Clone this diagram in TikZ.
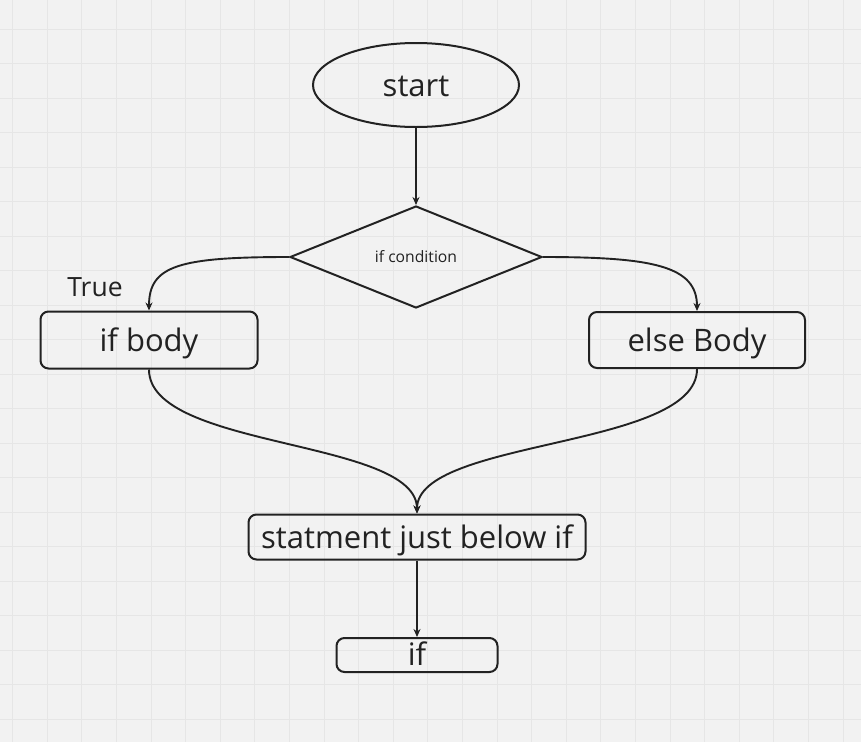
\documentclass[tikz,border=0pt]{standalone}
\usepackage{fontspec}
\setmainfont{Open Sans}
\usetikzlibrary{shapes.geometric,arrows.meta}
\definecolor{bg}{HTML}{F2F2F2}
\definecolor{gridc}{HTML}{E6E6E6}
\definecolor{ink}{HTML}{222222}
\begin{document}
\begin{tikzpicture}[x=1pt,y=-1pt,
  box/.style={draw=ink, line width=2pt, rounded corners=8pt, text=ink, inner sep=0pt},
  conn/.style={draw=ink, line width=1.9pt, -{Stealth[length=8pt,width=7pt]}},
  big/.style={font=\fontsize{31}{37}\selectfont, text height=25pt, text depth=2pt},
]
\fill[bg] (0,0) rectangle (861,742);
\useasboundingbox (0,0) rectangle (861,742);
\foreach \i in {0,...,24} \draw[gridc, line width=1pt] ({12.7+34.6*\i},0) -- ({12.7+34.6*\i},742);
\foreach \j in {0,...,21} \draw[gridc, line width=1pt] (0,{29.3+34.5*\j}) -- (861,{29.3+34.5*\j});

\node[ellipse, draw=ink, line width=2pt, minimum width=206pt, minimum height=84pt, inner sep=0pt, text=ink, big] (start) at (416,85) {start};
\node[diamond, draw=ink, line width=2pt, minimum width=252pt, minimum height=102pt, inner sep=0pt, text=ink, font=\fontsize{15.7}{19}\selectfont] (cond) at (416,257) {if condition};
\node[box, big, minimum width=217pt, minimum height=57pt] (ifb) at (149,340) {if body};
\node[box, big, minimum width=216pt, minimum height=56pt] (elb) at (697,340) {else Body};
\node[box, big, minimum width=337pt, minimum height=45pt] (stmt) at (417,537) {statment just below if};
\node[box, big, minimum width=161pt, minimum height=34pt, text height=23pt, text depth=3pt] (ifn) at (417,655) {if};
\node[text=ink, font=\fontsize{26.5}{31}\selectfont] (true) at (95,287) {True};

\draw[conn] (start.south) -- (cond.north);
\draw[conn] (cond.west) .. controls +(-110,0) and +(0,-45) .. (ifb.north);
\draw[conn] (cond.east) .. controls +(110,0) and +(0,-45) .. (elb.north);
\draw[conn] (ifb.south) .. controls +(0,80) and +(0,-75) .. (stmt.north);
\draw[conn] (elb.south) .. controls +(0,80) and +(0,-75) .. (stmt.north);
\draw[conn] (stmt.south) -- (ifn.north);
\end{tikzpicture}
\end{document}
